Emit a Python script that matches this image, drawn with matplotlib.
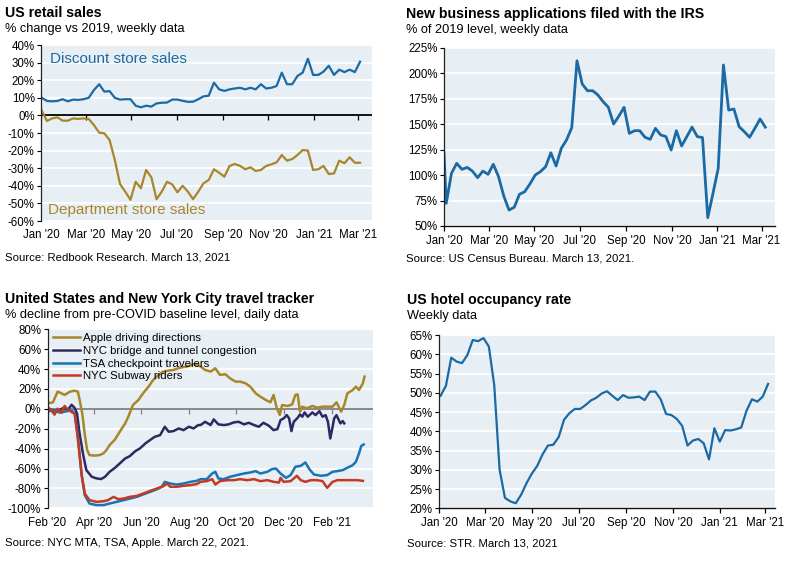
import numpy as np
import pandas as pd
import matplotlib
matplotlib.use("Agg")
import matplotlib.pyplot as plt
import matplotlib.dates as mdates
from matplotlib.ticker import FuncFormatter, MultipleLocator

plt.rcParams['font.family'] = ['Liberation Sans', 'DejaVu Sans']
plt.rcParams['axes.unicode_minus'] = False

# ---- US retail sales, % change vs 2019 (weekly) ----
retail_start = '2020-01-02'
discount = [10, 8.2, 8, 8.2, 9.2, 8, 9, 8.8, 9.2, 10, 14.4, 17.7, 13.5, 13.8, 10, 9,
            9.2, 9.2, 5.5, 4.6, 5.5, 5, 6.8, 7.2, 7.3, 9, 9, 8.3, 7.7, 7.8, 9.2, 10.8,
            11.2, 18.6, 14.8, 13.9, 14.8, 15.3, 15.7, 14.8, 15.7, 14.8, 17.7, 15.3, 15.7,
            16.7, 24.3, 17.7, 17.7, 22.4, 24.3, 32.2, 23, 23, 24.9, 28.2, 23, 26, 24.6,
            26, 24.6, 30.5]
department = [2.7, -3.2, -1.7, -1.1, -3, -3, -1.7, -2, -1.7, -2, -5.5, -9.8, -10.2, -14,
              -25.3, -39, -43.3, -48, -37.7, -41.4, -31, -35.2, -47.6, -43.3, -37.7, -39.2,
              -43.7, -40, -43.3, -47.6, -43.3, -38.6, -36.7, -30.6, -32.6, -34.8, -28.7,
              -27.6, -28.7, -30.6, -29.5, -31.6, -31, -28.7, -27.8, -26.7, -22.5, -25.7,
              -24.8, -22.5, -19.7, -20, -31, -30.6, -28.7, -33.3, -33, -25.7, -27.2, -23.8,
              -26.9, -26.9]

# ---- New business applications, % of 2019 level (weekly) ----
irs_first = ('2020-01-01', 121.5)
irs_start = '2020-01-04'
irs = [72.3, 101.8, 111.6, 105.7, 107.6, 104, 97.5, 104, 100.8, 110.7, 98.5, 79.5, 65.7,
       68.4, 81.2, 83.7, 91.3, 100.1, 103.4, 108.3, 122, 109, 126.4, 134.6, 146.7, 212.5,
       189.6, 183, 183, 178.8, 172.2, 166.7, 150.3, 158, 166.7, 141.1, 143.7, 143.7, 137.2,
       135.2, 146, 139.5, 137.9, 124.7, 143.7, 128.7, 137.9, 147.2, 137.9, 136.9, 58.2,
       82.1, 106.7, 208.3, 164, 165, 147.6, 142.7, 137.2, 146, 155.2, 147.2]

# ---- Travel tracker, % from pre-COVID baseline (days since 2020-02-01) ----
travel_start = '2020-02-01'
apple_days = [0, 7, 13, 18, 22, 29, 35, 39, 41, 45, 48, 51, 54, 61, 67, 72, 76, 80, 87, 93,
              100, 104, 110, 117, 123, 130, 136, 143, 149, 156, 162, 171, 179, 188, 194,
              197, 203, 210, 216, 222, 229, 235, 242, 248, 255, 261, 268, 274, 281, 287,
              291, 295, 299, 302, 309, 315, 319, 322, 325, 328, 334, 341, 347, 354, 360,
              367, 372, 378, 382, 386, 393, 397, 401, 406, 408]
apple = [5.6, 6.5, 17.3, 15.6, 14, 17.3, 18.3, 17.3, 10.6, -6, -26, -41.3, -46.5, -47,
         -46.5, -44.8, -41.3, -36.4, -30.7, -23, -14.6, -7.9, 3.9, 8.9, 15.6, 22.3, 29,
         34.1, 37.5, 38.5, 39.1, 41.5, 42.5, 44.9, 44.2, 42.5, 39.1, 37.5, 40.8, 34.1,
         34.8, 30.7, 27.4, 27.4, 25.7, 22.3, 15.6, 12.3, 8.9, 6.6, 14, 1.2, -6.1, 3.9, 2.9,
         4.5, 14, 14.6, -2.8, 2.2, 0.6, 2.9, 1.2, 2.2, 2.2, 2.2, 6.6, -2.8, 3.9, 15.6, 19,
         22.3, 19, 25.7, 32.4]
bridge_days = [0, 7, 13, 20, 26, 31, 35, 38, 41, 46, 50, 57, 63, 69, 74, 80, 87, 93, 100,
               106, 113, 119, 126, 132, 138, 145, 151, 156, 162, 169, 175, 182, 188, 194,
               197, 203, 210, 214, 220, 227, 233, 240, 246, 253, 259, 266, 272, 278, 285,
               291, 296, 300, 304, 308, 311, 314, 317, 322, 325, 328, 331, 335, 341, 345,
               350, 354, 358, 361, 364, 367, 369, 372, 377, 380, 382]
bridge = [0.2, -1.5, -2.5, 0.8, -1.5, 4.1, 0.8, -4.8, -23.2, -46.5, -61.6, -68.3, -69.9,
          -70.6, -68.3, -63.3, -59.2, -54.9, -49.9, -47.5, -42.5, -39.8, -34.8, -31.4,
          -28.1, -26.4, -18, -23, -22.4, -19.7, -21.4, -18, -19.7, -16.3, -16.3, -13,
          -16.3, -10.6, -15.6, -16.3, -15.6, -13.6, -13, -15.6, -14, -16.3, -18, -14, -17,
          -21.4, -20.4, -11.3, -9.6, -6.3, -9.6, -22.4, -13, -9, -5.6, -7.9, -3.6, -7.9,
          -3.6, -6.3, -2.3, -7.9, -6.3, -13, -29.8, -18, -9.6, -6.3, -14.6, -12.3, -14.6]
tsa_days = [0, 7, 16, 24, 31, 35, 39, 44, 48, 54, 63, 72, 80, 89, 98, 106, 115, 123, 132,
            141, 147, 151, 158, 166, 175, 184, 192, 197, 205, 212, 216, 220, 227, 235, 244,
            253, 261, 268, 274, 283, 289, 294, 300, 307, 313, 319, 326, 332, 337, 343, 352,
            360, 367, 373, 380, 386, 393, 397, 401, 404, 407]
tsa = [-2.5, -1.5, -3.8, -2.5, -1.5, -4.8, -26.6, -66.6, -86.8, -95.2, -96.8, -96.8,
       -95.2, -93.5, -91.8, -90.2, -88.5, -86.1, -83.5, -80.8, -78.4, -73.4, -75.1, -76.1,
       -75.1, -73.4, -72.4, -70.7, -70.7, -65, -63.3, -70, -70.7, -68.3, -66.6, -65, -64,
       -62.6, -65, -63.3, -60.6, -60, -65, -69.4, -66.6, -58.3, -57.3, -53.9, -60.6, -66,
       -67.3, -66.6, -63.3, -62.6, -61.6, -59.2, -56.6, -53.2, -44.8, -37.2, -35.8]
subway_days = [0, 5, 9, 13, 18, 22, 26, 31, 35, 39, 44, 48, 54, 63, 72, 78, 85, 91, 98,
               106, 115, 123, 132, 141, 149, 154, 158, 166, 175, 184, 192, 197, 205, 212,
               216, 222, 231, 240, 248, 257, 266, 274, 283, 291, 298, 300, 304, 313, 321,
               326, 332, 339, 347, 354, 360, 367, 373, 382, 391, 399, 406]
subway = [1.9, -1.5, -5.8, 0.2, -3.8, 2.9, -0.5, -3.2, -4.8, -29.9, -66.6, -85.2, -91.8,
          -93.5, -92.9, -91.8, -88.5, -90.8, -90.2, -88.5, -87.5, -85.2, -82.5, -80.1,
          -77.8, -75.1, -78.4, -78.4, -77.4, -76.7, -75.7, -73.4, -72.7, -70.7, -76.1,
          -72.7, -71.7, -71.7, -70.7, -71.7, -70.7, -72.7, -71.7, -73.4, -74.1, -69.4,
          -73.4, -72.7, -67.3, -71.7, -73.4, -71.7, -71.7, -72.7, -79.4, -73.4, -71.7,
          -71.7, -71.7, -71.7, -72.4]

# ---- US hotel occupancy rate, % (weekly) ----
hotel_start = '2020-01-03'
hotel = [49.2, 51.8, 59.1, 58.1, 57.7, 59.8, 63.7, 63.4, 64.2, 62, 52, 30, 22.7, 21.8, 21.3,
         23.5, 26.5, 29, 31, 34, 36.3, 36.5, 38.5, 43, 44.7, 45.8, 45.8, 46.8, 48, 48.7,
         49.8, 50.4, 49.2, 48.1, 49.4, 48.7, 48.8, 49, 48.1, 50.3, 50.3, 48.3, 44.5, 44.2,
         43.2, 41.4, 36.3, 37.6, 38, 36.9, 32.7, 40.8, 37.3, 40.3, 40.2, 40.5, 41, 45.4,
         48.3, 47.7, 49, 52.3]

BG = '#e8eff4'
BLUE = '#1b6aa5'
GOLD = '#a8862c'
NAVY = '#2d2a62'
TSA_BLUE = '#1874b4'
RED = '#c33a24'

W, H = 800, 561
fig = plt.figure(figsize=(W / 100, H / 100), dpi=100)


def px_axes(left, top, right, bottom):
    return fig.add_axes([left / W, 1 - bottom / H, (right - left) / W, (bottom - top) / H])


def weekly(start, n):
    return pd.date_range(start, periods=n, freq='7D')


def days(start, offs):
    return pd.Timestamp(start) + pd.to_timedelta(offs, unit='D')


def style(ax, ylim, step, months, xlim, bottom_spine=True):
    ax.set_facecolor(BG)
    ax.set_ylim(*ylim)
    ax.set_xlim(pd.Timestamp(xlim[0]), pd.Timestamp(xlim[1]))
    ax.yaxis.set_major_locator(MultipleLocator(step))
    ax.yaxis.set_major_formatter(FuncFormatter(lambda v, p: f"{v:.0f}%"))
    ax.xaxis.set_major_locator(mdates.MonthLocator(bymonth=months))
    ax.xaxis.set_major_formatter(mdates.DateFormatter("%b '%y"))
    ax.grid(axis='y', color='white', lw=1.2)
    ax.set_axisbelow(True)
    for s in ['top', 'right']:
        ax.spines[s].set_visible(False)
    ax.spines['left'].set_color('#222222')
    ax.spines['left'].set_linewidth(0.9)
    ax.tick_params(axis='y', labelsize=8.3, length=3, width=0.8, pad=1.5)
    ax.tick_params(axis='x', labelsize=8.3, length=3.5, width=0.9, pad=3)
    if bottom_spine:
        ax.spines['bottom'].set_color('#111111')
        ax.spines['bottom'].set_linewidth(1.0)
    else:
        ax.spines['bottom'].set_visible(False)
        ax.tick_params(axis='x', length=0, pad=6)


def zero_line(ax, color):
    # zero baseline carrying the month tick marks
    ax.axhline(0, color=color, lw=1.3, zorder=1.8)
    ticks = ax.get_xticks()
    ax.plot(ticks, np.zeros_like(ticks), ls='none', marker=3, ms=3.5, mew=0.9,
            color=color, zorder=1.8)


def heading(x, y, title, sub, src, src_y):
    fig.text(x / W, 1 - y / H, title, fontsize=10.2, fontweight='bold', va='center')
    fig.text(x / W, 1 - (y + 16) / H, sub, fontsize=9.2, va='center')
    fig.text(x / W, 1 - src_y / H, src, fontsize=8.2, va='center')


odd = [1, 3, 5, 7, 9, 11]
even = [2, 4, 6, 8, 10, 12]

# panel 1: retail
ax1 = px_axes(41, 45, 372, 221)
style(ax1, (-60, 40), 10, odd, ('2020-01-01', '2021-03-20'), bottom_spine=False)
zero_line(ax1, 'black')
ax1.plot(weekly(retail_start, len(discount)), discount, color=BLUE, lw=1.6)
ax1.plot(weekly(retail_start, len(department)), department, color=GOLD, lw=1.6)
ax1.set_xlim(pd.Timestamp('2020-01-01'), pd.Timestamp('2021-03-20'))
ax1.text(0.027, 0.92, 'Discount store sales', transform=ax1.transAxes, color=BLUE,
         fontsize=11, va='center')
ax1.text(0.021, 0.063, 'Department store sales', transform=ax1.transAxes, color=GOLD,
         fontsize=11, va='center')
heading(5, 13, 'US retail sales', '% change vs 2019, weekly data',
        'Source: Redbook Research. March 13, 2021', 257)

# panel 2: IRS
ax2 = px_axes(444, 48, 775, 226)
style(ax2, (50, 225), 25, odd, ('2020-01-01', '2021-03-19'))
irs_dates = [pd.Timestamp(irs_first[0])] + list(weekly(irs_start, len(irs)))
ax2.plot(irs_dates, [irs_first[1]] + irs, color=BLUE, lw=2.0)
heading(406, 14, 'New business applications filed with the IRS',
        '% of 2019 level, weekly data', 'Source: US Census Bureau. March 13, 2021.', 258)

# panel 3: travel tracker
ax3 = px_axes(47.5, 329.3, 373, 508.3)
style(ax3, (-100, 80), 20, even, ('2020-02-01', '2021-03-26'), bottom_spine=False)
zero_line(ax3, '#7f7f7f')
ax3.plot(days(travel_start, apple_days), apple, color=GOLD, lw=1.8,
         label='Apple driving directions')
ax3.plot(days(travel_start, bridge_days), bridge, color=NAVY, lw=1.8,
         label='NYC bridge and tunnel congestion')
ax3.plot(days(travel_start, tsa_days), tsa, color=TSA_BLUE, lw=1.8,
         label='TSA checkpoint travelers')
ax3.plot(days(travel_start, subway_days), subway, color=RED, lw=1.8,
         label='NYC Subway riders')
ax3.set_xlim(pd.Timestamp('2020-02-01'), pd.Timestamp('2021-03-26'))
ax3.legend(loc='upper left', bbox_to_anchor=(0.012, 0.985), frameon=False, fontsize=8.2,
           handlelength=2.45, handletextpad=0.2, labelspacing=0.24, borderpad=0.1,
           borderaxespad=0)
heading(5, 299, 'United States and New York City travel tracker',
        '% decline from pre-COVID baseline level, daily data',
        'Source: NYC MTA, TSA, Apple. March 22, 2021.', 543)

# panel 4: hotel
ax4 = px_axes(439, 335, 775, 508.3)
style(ax4, (20, 65), 5, odd, ('2020-01-01', '2021-03-14'))
ax4.plot(weekly(hotel_start, len(hotel)), hotel, color=BLUE, lw=1.6)
heading(407, 300, 'US hotel occupancy rate', 'Weekly data',
        'Source: STR. March 13, 2021', 543)

fig.savefig('out.png', dpi=100, facecolor='white')
